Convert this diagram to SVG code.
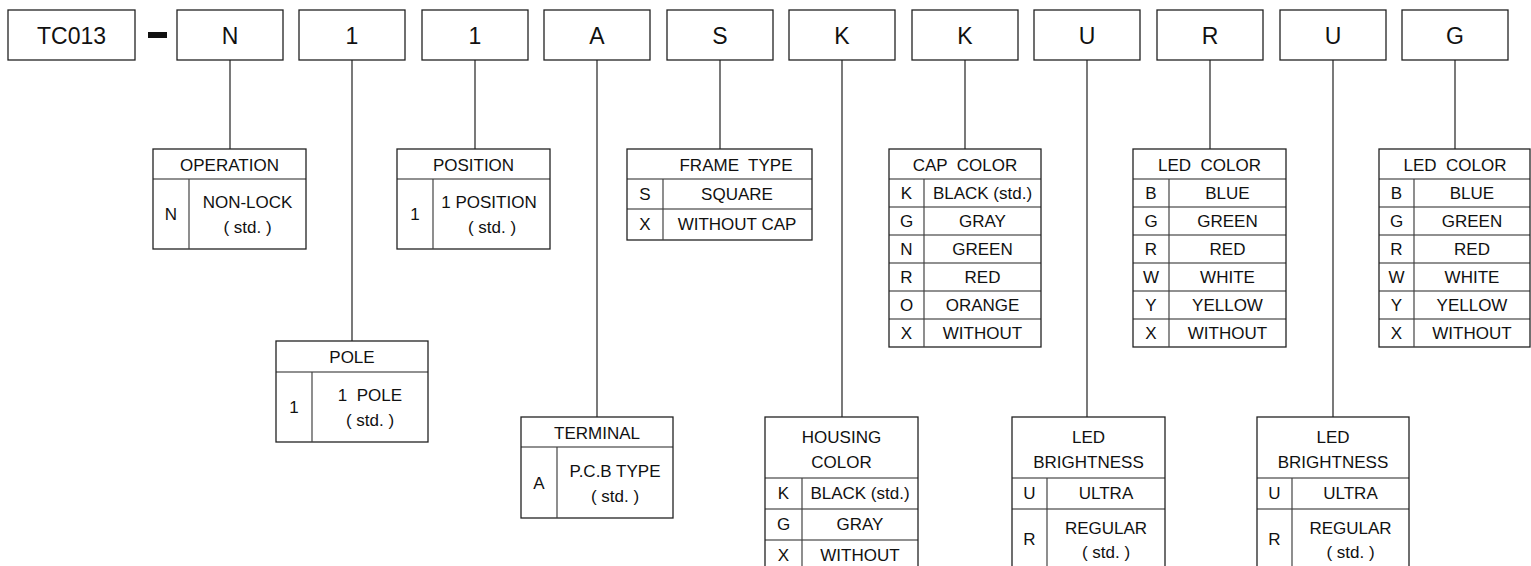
<svg xmlns="http://www.w3.org/2000/svg" width="1531" height="566" viewBox="0 0 1531 566">
<style>
.bx{fill:#fff;stroke:#222;stroke-width:1.3}
.ln{stroke:#222;stroke-width:1.2;fill:none}
.dv{stroke:#444;stroke-width:1.2;fill:none}
.t{font-family:"Liberation Sans",Arial,sans-serif;font-size:17px;text-anchor:middle;fill:#111;white-space:pre}
.b{font-family:"Liberation Sans",Arial,sans-serif;font-size:23px;text-anchor:middle;fill:#111}
</style>
<rect width="1531" height="566" fill="#fff"/>
<g id="connectors">
<path class="ln" d="M230 60V149M352 60V341M475 60V149M597 60V417M720 60V149M842 60V417M965 60V149M1087 60V417M1210 60V149M1333 60V417M1455 60V149"/>
</g>
<g id="code">
<g id="c-tc013"><rect class="bx" x="8" y="10" width="127" height="50"/><text class="b" x="71.5" y="44">TC013</text></g>
<rect id="dash" x="148" y="32" width="19" height="6" fill="#111"/>
<g id="c-n"><rect class="bx" x="177" y="10" width="106" height="50"/><text class="b" x="230" y="44">N</text></g>
<g id="c-1a"><rect class="bx" x="299" y="10" width="106" height="50"/><text class="b" x="352" y="44">1</text></g>
<g id="c-1b"><rect class="bx" x="422" y="10" width="106" height="50"/><text class="b" x="475" y="44">1</text></g>
<g id="c-a"><rect class="bx" x="544" y="10" width="106" height="50"/><text class="b" x="597" y="44">A</text></g>
<g id="c-s"><rect class="bx" x="667" y="10" width="106" height="50"/><text class="b" x="720" y="44">S</text></g>
<g id="c-k1"><rect class="bx" x="789" y="10" width="106" height="50"/><text class="b" x="842" y="44">K</text></g>
<g id="c-k2"><rect class="bx" x="912" y="10" width="106" height="50"/><text class="b" x="965" y="44">K</text></g>
<g id="c-u1"><rect class="bx" x="1034" y="10" width="106" height="50"/><text class="b" x="1087" y="44">U</text></g>
<g id="c-r"><rect class="bx" x="1157" y="10" width="106" height="50"/><text class="b" x="1210" y="44">R</text></g>
<g id="c-u2"><rect class="bx" x="1280" y="10" width="106" height="50"/><text class="b" x="1333" y="44">U</text></g>
<g id="c-g"><rect class="bx" x="1402" y="10" width="106" height="50"/><text class="b" x="1455" y="44">G</text></g>
</g>
<g id="t-operation">
<rect class="bx" x="153" y="149" width="153" height="100"/>
<path class="ln" d="M153 179H306"/><path class="dv" d="M189 179V249"/>
<text class="t" x="229.5" y="171">OPERATION</text>
<text class="t" x="171" y="220">N</text>
<text class="t" x="247.5" y="208">NON-LOCK</text>
<text class="t" x="247.5" y="233">( std. )</text>
</g>
<g id="t-position">
<rect class="bx" x="397" y="149" width="153" height="100"/>
<path class="ln" d="M397 179H550"/><path class="dv" d="M433 179V249"/>
<text class="t" x="473.5" y="171">POSITION</text>
<text class="t" x="415" y="220">1</text>
<text class="t" x="489" y="208">1 POSITION</text>
<text class="t" x="492" y="233">( std. )</text>
</g>
<g id="t-pole">
<rect class="bx" x="276" y="341" width="152" height="101"/>
<path class="ln" d="M276 372H428"/><path class="dv" d="M312 372V442"/>
<text class="t" x="352" y="363">POLE</text>
<text class="t" x="294" y="413">1</text>
<text class="t" x="370" y="401">1  POLE</text>
<text class="t" x="370" y="426">( std. )</text>
</g>
<g id="t-terminal">
<rect class="bx" x="521" y="417" width="152" height="101"/>
<path class="ln" d="M521 447H673"/><path class="dv" d="M557 447V518"/>
<text class="t" x="597" y="439">TERMINAL</text>
<text class="t" x="539" y="489">A</text>
<text class="t" x="615" y="477">P.C.B TYPE</text>
<text class="t" x="615" y="502">( std. )</text>
</g>
<g id="t-frame">
<rect class="bx" x="627" y="149" width="185" height="91"/>
<path class="ln" d="M627 179H812M627 209H812"/><path class="dv" d="M663 179V240"/>
<text class="t" x="736" y="171">FRAME  TYPE</text>
<text class="t" x="645" y="200">S</text><text class="t" x="737" y="200">SQUARE</text>
<text class="t" x="645" y="230">X</text><text class="t" x="737" y="230">WITHOUT CAP</text>
</g>
<g id="t-cap">
<rect class="bx" x="889" y="149" width="152" height="198"/>
<path class="ln" d="M889 179H1041M889 207H1041M889 235H1041M889 263H1041M889 291H1041M889 319H1041"/><path class="dv" d="M924 179V347"/>
<text class="t" x="965" y="171">CAP  COLOR</text>
<text class="t" x="906.5" y="199">K</text><text class="t" x="982.5" y="199">BLACK (std.)</text>
<text class="t" x="906.5" y="227">G</text><text class="t" x="982.5" y="227">GRAY</text>
<text class="t" x="906.5" y="255">N</text><text class="t" x="982.5" y="255">GREEN</text>
<text class="t" x="906.5" y="283">R</text><text class="t" x="982.5" y="283">RED</text>
<text class="t" x="906.5" y="311">O</text><text class="t" x="982.5" y="311">ORANGE</text>
<text class="t" x="906.5" y="339">X</text><text class="t" x="982.5" y="339">WITHOUT</text>
</g>
<g id="t-led1">
<rect class="bx" x="1133" y="149" width="153" height="198"/>
<path class="ln" d="M1133 179H1286M1133 207H1286M1133 235H1286M1133 263H1286M1133 291H1286M1133 319H1286"/><path class="dv" d="M1169 179V347"/>
<text class="t" x="1209.5" y="171">LED  COLOR</text>
<text class="t" x="1151" y="199">B</text><text class="t" x="1227.5" y="199">BLUE</text>
<text class="t" x="1151" y="227">G</text><text class="t" x="1227.5" y="227">GREEN</text>
<text class="t" x="1151" y="255">R</text><text class="t" x="1227.5" y="255">RED</text>
<text class="t" x="1151" y="283">W</text><text class="t" x="1227.5" y="283">WHITE</text>
<text class="t" x="1151" y="311">Y</text><text class="t" x="1227.5" y="311">YELLOW</text>
<text class="t" x="1151" y="339">X</text><text class="t" x="1227.5" y="339">WITHOUT</text>
</g>
<g id="t-led2">
<rect class="bx" x="1379" y="149" width="151" height="198"/>
<path class="ln" d="M1379 179H1530M1379 207H1530M1379 235H1530M1379 263H1530M1379 291H1530M1379 319H1530"/><path class="dv" d="M1414 179V347"/>
<text class="t" x="1455" y="171">LED  COLOR</text>
<text class="t" x="1396.5" y="199">B</text><text class="t" x="1472" y="199">BLUE</text>
<text class="t" x="1396.5" y="227">G</text><text class="t" x="1472" y="227">GREEN</text>
<text class="t" x="1396.5" y="255">R</text><text class="t" x="1472" y="255">RED</text>
<text class="t" x="1396.5" y="283">W</text><text class="t" x="1472" y="283">WHITE</text>
<text class="t" x="1396.5" y="311">Y</text><text class="t" x="1472" y="311">YELLOW</text>
<text class="t" x="1396.5" y="339">X</text><text class="t" x="1472" y="339">WITHOUT</text>
</g>
<g id="t-housing">
<rect class="bx" x="765" y="417" width="153" height="154"/>
<path class="ln" d="M765 478H918M765 509H918M765 540H918"/><path class="dv" d="M802 478V571"/>
<text class="t" x="841.5" y="443">HOUSING</text>
<text class="t" x="841.5" y="468">COLOR</text>
<text class="t" x="783.5" y="499">K</text><text class="t" x="860" y="499">BLACK (std.)</text>
<text class="t" x="783.5" y="530">G</text><text class="t" x="860" y="530">GRAY</text>
<text class="t" x="783.5" y="561">X</text><text class="t" x="860" y="561">WITHOUT</text>
</g>
<g id="t-bright1">
<rect class="bx" x="1012" y="417" width="153" height="154"/>
<path class="ln" d="M1012 478H1165M1012 509H1165"/><path class="dv" d="M1047 478V571"/>
<text class="t" x="1088.5" y="443">LED</text>
<text class="t" x="1088.5" y="468">BRIGHTNESS</text>
<text class="t" x="1029.5" y="499">U</text><text class="t" x="1106" y="499">ULTRA</text>
<text class="t" x="1029.5" y="545">R</text><text class="t" x="1106" y="534">REGULAR</text>
<text class="t" x="1106" y="558">( std. )</text>
</g>
<g id="t-bright2">
<rect class="bx" x="1257" y="417" width="152" height="154"/>
<path class="ln" d="M1257 478H1409M1257 509H1409"/><path class="dv" d="M1292 478V571"/>
<text class="t" x="1333" y="443">LED</text>
<text class="t" x="1333" y="468">BRIGHTNESS</text>
<text class="t" x="1274.5" y="499">U</text><text class="t" x="1350.5" y="499">ULTRA</text>
<text class="t" x="1274.5" y="545">R</text><text class="t" x="1350.5" y="534">REGULAR</text>
<text class="t" x="1350.5" y="558">( std. )</text>
</g>
</svg>
